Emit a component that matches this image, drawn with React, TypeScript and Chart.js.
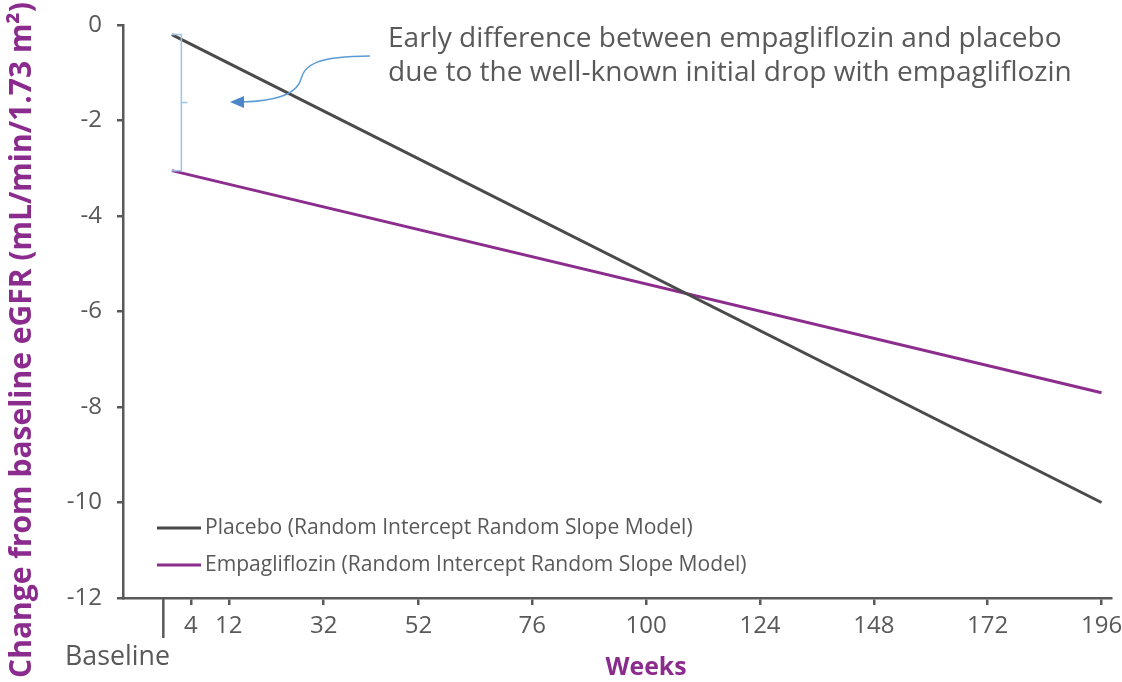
import React, { useEffect, useRef } from "react";
import { Chart, registerables } from "chart.js";

Chart.register(...registerables);

// ---- data ----
const weeks = [0, 196];
const placeboValues = [-0.2, -10.0];
const empaValues = [-3.05, -7.7];
const xTickValues = [4, 12, 32, 52, 76, 100, 124, 148, 172, 196];
const yTickValues = [0, -2, -4, -6, -8, -10, -12];
const seriesLabels = [
  "Placebo (Random Intercept Random Slope Model)",
  "Empagliflozin (Random Intercept Random Slope Model)",
];
const yAxisTitle = "Change from baseline eGFR (mL/min/1.73 m²)";
const xAxisTitle = "Weeks";
const baselineLabel = "Baseline";
const annotationLines = [
  "Early difference between empagliflozin and placebo",
  "due to the well-known initial drop with empagliflozin",
];

const FONT = "'Open Sans', 'DejaVu Sans', sans-serif";
const GRAY_TEXT = "#595959";
const AXIS = "#595959";
const PLACEBO_COLOR = "#4a4a4a";
const EMPA_COLOR = "#8c2d8e";
const PURPLE_TEXT = "#8a2b8d";

function fitSize(ctx: CanvasRenderingContext2D, text: string, weight: string, target: number) {
  ctx.font = `${weight} 20px ${FONT}`;
  const w = ctx.measureText(text).width;
  return (20 * target) / w;
}

const overlay = {
  id: "overlay",
  afterDraw(chart: any) {
    const ctx: CanvasRenderingContext2D = chart.ctx;
    const xs = chart.scales.x;
    const ys = chart.scales.y;
    const ca = chart.chartArea;
    ctx.save();

    // y axis title
    let s = fitSize(ctx, yAxisTitle, "bold", 676);
    ctx.font = `bold ${s}px ${FONT}`;
    ctx.fillStyle = PURPLE_TEXT;
    ctx.translate(22, 340);
    ctx.rotate(-Math.PI / 2);
    ctx.textAlign = "center";
    ctx.textBaseline = "middle";
    ctx.fillText(yAxisTitle, 0, 0);
    ctx.setTransform(1, 0, 0, 1, 0, 0);

    // x axis title
    s = fitSize(ctx, xAxisTitle, "bold", 81);
    ctx.font = `bold ${s}px ${FONT}`;
    ctx.fillStyle = PURPLE_TEXT;
    ctx.textAlign = "center";
    ctx.textBaseline = "middle";
    ctx.fillText(xAxisTitle, 646, 668);

    // baseline divider + label
    const bx = xs.getPixelForValue(-1.8);
    ctx.strokeStyle = AXIS;
    ctx.lineWidth = 2.5;
    ctx.beginPath();
    ctx.moveTo(bx, ys.bottom);
    ctx.lineTo(bx, ys.bottom + 40);
    ctx.stroke();
    s = fitSize(ctx, baselineLabel, "normal", 105);
    ctx.font = `normal ${s}px ${FONT}`;
    ctx.fillStyle = GRAY_TEXT;
    ctx.textAlign = "left";
    ctx.textBaseline = "middle";
    ctx.fillText(baselineLabel, 65, 657);

    // legend
    const datasets = chart.data.datasets;
    s = fitSize(ctx, seriesLabels[0], "normal", 488);
    ctx.font = `normal ${s}px ${FONT}`;
    datasets.forEach((ds: any, i: number) => {
      const ly = ca.bottom - 70 + i * 37;
      ctx.strokeStyle = ds.borderColor;
      ctx.lineWidth = 3;
      ctx.beginPath();
      ctx.moveTo(ca.left + 34, ly);
      ctx.lineTo(ca.left + 78, ly);
      ctx.stroke();
      ctx.fillStyle = GRAY_TEXT;
      ctx.textAlign = "left";
      ctx.textBaseline = "middle";
      ctx.fillText(ds.label, ca.left + 82, ly);
    });

    // bracket
    const brx = xs.getPixelForValue(2);
    const x0 = xs.getPixelForValue(weeks[0]);
    const yTop = ys.getPixelForValue(placeboValues[0]);
    const yBot = ys.getPixelForValue(empaValues[0]);
    const yMid = (yTop + yBot) / 2;
    ctx.strokeStyle = "#9dc3e6";
    ctx.lineWidth = 1.5;
    ctx.beginPath();
    ctx.moveTo(x0, yTop);
    ctx.lineTo(brx, yTop);
    ctx.lineTo(brx, yBot);
    ctx.lineTo(x0, yBot);
    ctx.moveTo(brx, yMid);
    ctx.lineTo(brx + 6, yMid);
    ctx.stroke();

    // arrow
    ctx.strokeStyle = "#5b9bd5";
    ctx.fillStyle = "#4a86c8";
    ctx.lineWidth = 1.5;
    ctx.beginPath();
    ctx.moveTo(370, 56);
    ctx.bezierCurveTo(315, 56, 304, 66, 301, 79);
    ctx.bezierCurveTo(296, 96, 272, 101, 242, 102);
    ctx.stroke();
    ctx.beginPath();
    ctx.moveTo(230, 102);
    ctx.lineTo(244, 96);
    ctx.lineTo(244, 108);
    ctx.closePath();
    ctx.fill();

    // annotation text
    s = fitSize(ctx, annotationLines[0], "normal", 674);
    ctx.font = `normal ${s}px ${FONT}`;
    ctx.fillStyle = GRAY_TEXT;
    ctx.textAlign = "left";
    ctx.textBaseline = "middle";
    ctx.fillText(annotationLines[0], 388, 39);
    ctx.fillText(annotationLines[1], 388, 73);

    ctx.restore();
  },
};

export default function App() {
  const ref = useRef<HTMLCanvasElement | null>(null);
  useEffect(() => {
    if (!ref.current) return;
    const chart = new Chart(ref.current, {
      type: "line",
      data: {
        datasets: [
          {
            label: seriesLabels[0],
            data: weeks.map((w, i) => ({ x: w, y: placeboValues[i] })),
            borderColor: PLACEBO_COLOR,
            borderWidth: 3,
            pointRadius: 0,
            fill: false,
          },
          {
            label: seriesLabels[1],
            data: weeks.map((w, i) => ({ x: w, y: empaValues[i] })),
            borderColor: EMPA_COLOR,
            borderWidth: 3,
            pointRadius: 0,
            fill: false,
          },
        ],
      },
      options: {
        animation: false,
        responsive: false,
        maintainAspectRatio: false,
        layout: { padding: { top: 25, right: 11, left: 0, bottom: 0 } },
        plugins: { legend: { display: false }, tooltip: { enabled: false } },
        scales: {
          x: {
            type: "linear",
            min: -10.3,
            max: 198,
            afterBuildTicks: (scale: any) => {
              scale.ticks = xTickValues.map((v) => ({ value: v }));
            },
            afterFit: (scale: any) => {
              scale.height = 84;
              scale.paddingLeft = 0;
              scale.paddingRight = 0;
            },
            border: { color: AXIS, width: 2.5 },
            grid: { drawOnChartArea: false, drawTicks: true, tickLength: 7, color: AXIS, lineWidth: 2.5 },
            ticks: {
              autoSkip: false,
              maxRotation: 0,
              padding: 7,
              color: GRAY_TEXT,
              font: { family: FONT, size: 24 },
              callback: (v: any) => String(v),
            },
          },
          y: {
            type: "linear",
            min: -12,
            max: 0,
            afterBuildTicks: (scale: any) => {
              scale.ticks = yTickValues.map((v) => ({ value: v }));
            },
            afterFit: (scale: any) => {
              scale.width = 123;
              scale.paddingTop = 0;
              scale.paddingBottom = 0;
            },
            border: { color: AXIS, width: 2.5 },
            grid: { drawOnChartArea: false, drawTicks: true, tickLength: 6, color: AXIS, lineWidth: 2.5 },
            ticks: {
              padding: 15,
              color: GRAY_TEXT,
              font: { family: FONT, size: 24 },
              callback: (v: any) => String(v),
            },
          },
        },
      },
      plugins: [overlay],
    } as any);
    return () => chart.destroy();
  }, []);
  return (
    <div style={{ position: "fixed", left: 0, top: 0, width: 1122, height: 682, background: "#fff" }}>
      <canvas ref={ref} width={1122} height={682} style={{ display: "block" }} />
    </div>
  );
}
